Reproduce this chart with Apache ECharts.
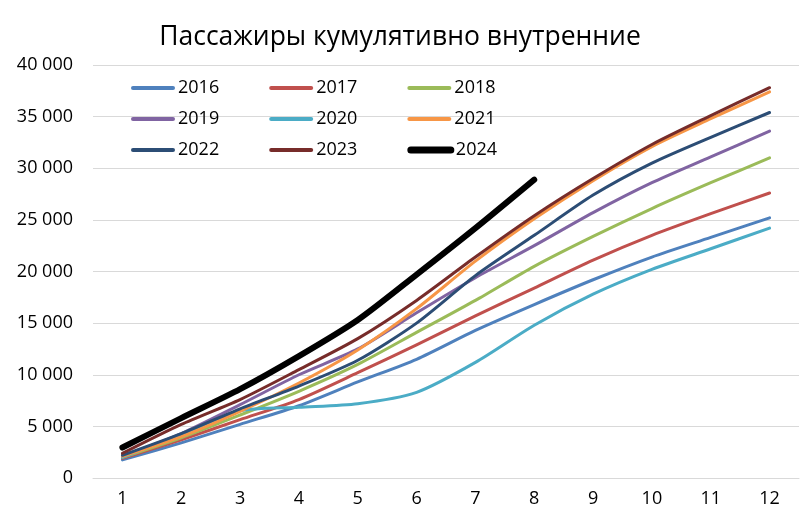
<!DOCTYPE html>
<html>
<head>
<meta charset="utf-8">
<script src="https://cdn.jsdelivr.net/npm/echarts@6/dist/echarts.min.js"></script>
<style>html,body{margin:0;padding:0;background:#fff;}#c{width:800px;height:530px;}</style>
</head>
<body>
<div id="c"></div>
<script>
var months = ['1','2','3','4','5','6','7','8','9','10','11','12'];
var d2016 = [1750, 3400, 5200, 7000, 9300, 11500, 14300, 16800, 19200, 21400, 23300, 25200];
var d2017 = [1900, 3700, 5650, 7600, 10200, 12900, 15700, 18400, 21100, 23500, 25600, 27600];
var d2018 = [2000, 3900, 6100, 8400, 11000, 14100, 17200, 20500, 23400, 26100, 28600, 31000];
var d2019 = [2100, 4300, 7100, 10000, 12500, 16000, 19400, 22500, 25700, 28600, 31100, 33600];
var d2020 = [2000, 4200, 6500, 6850, 7200, 8300, 11200, 14800, 17800, 20200, 22200, 24200];
var d2021 = [2100, 4000, 6450, 9200, 12400, 16400, 21000, 25100, 28800, 32100, 34800, 37400];
var d2022 = [2200, 4300, 6700, 8900, 11400, 15000, 19600, 23500, 27400, 30500, 33000, 35400];
var d2023 = [2400, 5200, 7600, 10500, 13500, 17200, 21400, 25400, 29000, 32300, 35100, 37800];
var d2024 = [2950, 5800, 8600, 11800, 15300, 19700, 24200, 28900];
var yTicks = [0, 5000, 10000, 15000, 20000, 25000, 30000, 35000, 40000];

var names = ['2016','2017','2018','2019','2020','2021','2022','2023','2024'];
var datas = [d2016,d2017,d2018,d2019,d2020,d2021,d2022,d2023,d2024];
var colors = ['#4F81BD','#C0504D','#9BBB59','#8064A2','#4BACC6','#F79646','#2C4D75','#772C2A','#000000'];
var FONT = 'Open Sans';

var series = names.map(function(n,i){
  return {
    name: n, type: 'line', data: datas[i], smooth: 0.25, symbol: 'none',
    lineStyle: {color: colors[i], width: n === '2024' ? 6 : 3, cap: 'round', join: 'round'},
    itemStyle: {color: colors[i]},
    z: n === '2024' ? 5 : 2
  };
});

function mkLegend(top, names3){
  return {
    left: 131, top: top, orient: 'horizontal', itemWidth: 40, itemHeight: 14, itemGap: 50,
    padding: 0,
    data: names3.map(function(n){
      return {name: n, lineStyle: {width: n === '2024' ? 7 : 4, cap: 'round'}};
    }),
    selectedMode: false,
    itemStyle: {opacity: 0},
    textStyle: {fontFamily: FONT, fontSize: 18, color: '#000'}
  };
}

var chart = echarts.init(document.getElementById('c'));
chart.setOption({
  animation: false,
  backgroundColor: '#fff',
  title: {
    text: 'Пассажиры кумулятивно внутренние', left: 'center', top: 19,
    textStyle: {fontFamily: FONT, fontSize: 26.5, fontWeight: 'normal', color: '#000'}
  },
  legend: [
    mkLegend(79, ['2016','2017','2018']),
    mkLegend(110, ['2019','2020','2021']),
    mkLegend(141, ['2022','2023','2024'])
  ],
  grid: {left: 93, right: 1, top: 65, bottom: 52, containLabel: false},
  xAxis: {
    type: 'category', data: months, boundaryGap: true,
    axisLine: {show: true, lineStyle: {color: '#d9d9d9', width: 1}},
    axisTick: {show: false},
    axisLabel: {fontFamily: FONT, fontSize: 18, color: '#000', margin: 12}
  },
  yAxis: {
    type: 'value', min: yTicks[0], max: yTicks[yTicks.length-1], interval: 5000,
    axisLine: {show: false}, axisTick: {show: false},
    splitLine: {lineStyle: {color: '#d9d9d9', width: 1}},
    axisLabel: {
      fontFamily: FONT, fontSize: 18, color: '#000', margin: 20,
      formatter: function(v){ return String(v).replace(/\B(?=(\d{3})+(?!\d))/g, ' '); }
    }
  },
  series: series
});
</script>
</body>
</html>
